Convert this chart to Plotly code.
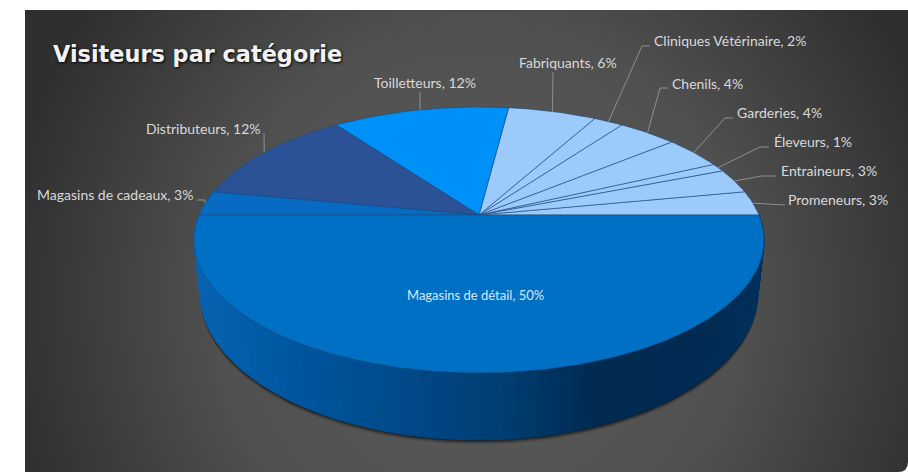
import base64
import numpy as np
import plotly.graph_objects as go

# ---------- data ----------
categories = ["Promeneurs", "Entraineurs", "Éleveurs", "Garderies", "Chenils",
              "Cliniques Vétérinaire", "Fabriquants", "Toilletteurs", "Distributeurs",
              "Magasins de cadeaux", "Magasins de détail"]
values = [3, 3, 1, 4, 4, 2, 6, 12, 12, 3, 50]

# ---------- style ----------
slice_colors = ["#9ccbfb"] * 7 + ["#0091f8", "#2b5297", "#086bc3", "#0070c4"]
W, H = 908, 472
CX = 479
K = 0.188
TOP = dict(cy=215.0, R=280.0, S=128.3)
BOT = dict(cy=264.0, R=274.0, S=142.8)
rim_x = [197, 300, 400, 500, 560, 600, 700, 762]
rim_rgb = [(8, 100, 180), (0, 86, 158), (0, 74, 138), (0, 63, 116),
           (0, 50, 94), (0, 42, 80), (0, 43, 82), (0, 49, 92)]

# label layout: text position, anchor, leader elbow points
label_layout = {
    "Promeneurs": (786, 199, "left", [(785, 205)]),
    "Entraineurs": (779, 170, "left", [(762, 176), (776, 176)]),
    "Éleveurs": (772, 141, "left", [(760, 147), (769, 147)]),
    "Garderies": (735, 112, "left", [(725, 118), (733, 118)]),
    "Chenils": (670, 83, "left", [(660, 88), (668, 88)]),
    "Cliniques Vétérinaire": (652, 40, "left", [(642, 46), (650, 46)]),
    "Fabriquants": (568, 62, "center", [(553, 72)]),
    "Toilletteurs": (425, 82, "center", [(420, 92)]),
    "Distributeurs": (263, 128, "right", [(264, 133)]),
    "Magasins de cadeaux": (195, 194, "right", [(205, 200), (197, 200)]),
    "Magasins de détail": (475, 295, "center", []),
}


def project(theta, g=TOP):
    """Circle angle (radians, counter-clockwise from the right) to picture position."""
    s, c = np.sin(theta), np.cos(theta)
    d = 1 + K * s
    return CX + g["R"] * c / d, g["cy"] - g["S"] * s / d


cum = np.cumsum([0] + values) / sum(values) * 2 * np.pi

fig = go.Figure()

# soft shadow beneath the disc
t = np.linspace(np.pi, 2 * np.pi, 120)
bx, by = project(t, BOT)
for off, op in [(5, 0.06), (4, 0.10), (3, 0.16), (2, 0.25), (1, 0.4)]:
    fig.add_trace(go.Scatter(x=bx, y=by + off, mode="lines", fill="toself", line=dict(width=0),
                             fillcolor=f"rgba(0,0,0,{op})", hoverinfo="skip", showlegend=False))

# side wall, in narrow strips that follow the gradient
edges = np.linspace(np.pi, 2 * np.pi, 91)
for a, b in zip(edges[:-1], edges[1:]):
    seg = np.array([a, b])
    tx, ty = project(seg, TOP)
    ux, uy = project(seg, BOT)
    mid = (tx.mean() + ux.mean()) / 2
    col = [int(np.interp(mid, rim_x, [c[i] for c in rim_rgb])) for i in range(3)]
    colour = f"rgb({col[0]},{col[1]},{col[2]})"
    fig.add_trace(go.Scatter(x=[tx[0], tx[1], ux[1], ux[0], tx[0]], y=[ty[0], ty[1], uy[1], uy[0], ty[0]],
                             mode="lines", fill="toself", fillcolor=colour, line=dict(color=colour, width=1),
                             hoverinfo="skip", showlegend=False))

# top face slices
for i, cat in enumerate(categories):
    th = np.linspace(cum[i], cum[i + 1], max(4, int(values[i] * 4)))
    x, y = project(th, TOP)
    cx0, cy0 = project(np.array([0.0]), dict(TOP, R=0, S=0))
    fig.add_trace(go.Scatter(x=np.r_[cx0, x, cx0], y=np.r_[cy0, y, cy0], mode="lines", fill="toself",
                             fillcolor=slice_colors[i], line=dict(color="#1a4a7c", width=0.6),
                             name=cat, hoverinfo="skip", showlegend=False))

# leader lines and labels
annotations = []
for i, cat in enumerate(categories):
    lx, ly, anchor, elbow = label_layout[cat]
    if elbow:
        ax, ay = project(np.array([(cum[i] + cum[i + 1]) / 2]), TOP)
        fig.add_trace(go.Scatter(x=[ax[0]] + [p[0] for p in elbow], y=[ay[0]] + [p[1] for p in elbow],
                                 mode="lines", line=dict(color="#8f8f8f", width=1),
                                 hoverinfo="skip", showlegend=False))
    big = values[i] == 50
    annotations.append(dict(x=lx, y=ly, xref="x", yref="y", text=f"{cat}, {values[i]}%", showarrow=False,
                            xanchor=anchor, yanchor="middle",
                            font=dict(family="Lato", size=13 if big else 14,
                                      color="#d9e8f5" if big else "#d9d9d9")))
annotations.append(dict(x=51, y=54, xref="x", yref="y", text="<b>Visiteurs par catégorie</b>", showarrow=False,
                        xanchor="left", yanchor="middle",
                        font=dict(family="DejaVu Sans", size=22.4, color="#f2f2f2", shadow="1px 1px 3px #000")))

# panel background: only the lower right corner is rounded
svg = f'''<svg xmlns="http://www.w3.org/2000/svg" width="{W}" height="{H}" viewBox="0 0 {W} {H}">
<defs><radialGradient id="g" gradientUnits="userSpaceOnUse" cx="0" cy="0" r="1"
 gradientTransform="translate(480 300) scale(480 500)">
<stop offset="0" stop-color="#5c5c5c"/><stop offset="0.55" stop-color="#505050"/>
<stop offset="1" stop-color="#2f2f2f"/></radialGradient></defs>
<path d="M25 10 H908 V462 Q908 472 898 472 H25 Z" fill="url(#g)"/></svg>'''
src = "data:image/svg+xml;base64," + base64.b64encode(svg.encode()).decode()

fig.update_layout(
    width=W, height=H, margin=dict(l=0, r=0, t=0, b=0), autosize=False,
    paper_bgcolor="white", plot_bgcolor="white",
    xaxis=dict(range=[0, W], visible=False, fixedrange=True),
    yaxis=dict(range=[H, 0], visible=False, fixedrange=True),
    images=[dict(source=src, xref="paper", yref="paper", x=0, y=1, sizex=1, sizey=1,
                 sizing="stretch", xanchor="left", yanchor="top", layer="below")],
    annotations=annotations,
)
fig.write_html("out.html", config={"displayModeBar": False},
               post_script="document.body.style.margin='0';document.body.style.overflow='hidden';")
